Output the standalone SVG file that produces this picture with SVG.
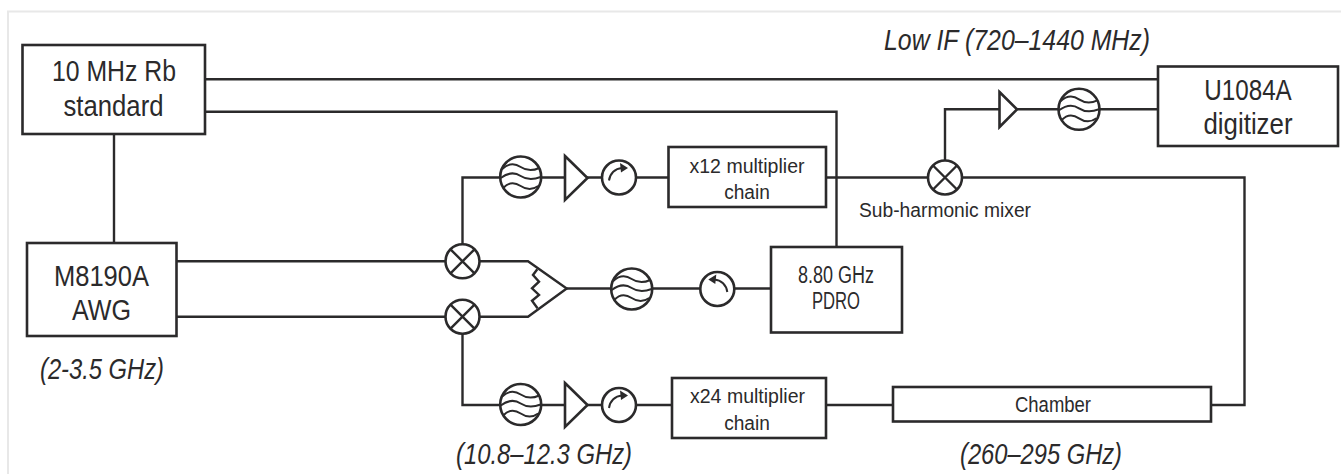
<svg xmlns="http://www.w3.org/2000/svg" width="1341" height="474" viewBox="0 0 1341 474">
<style>
text{font-family:"Liberation Sans",Arial,sans-serif;fill:#2b2a2b;text-anchor:middle}
.l{font-size:29px}.m{font-size:23px}.n{font-size:20px}.s{font-size:20px}.h{font-size:22px}.i{font-size:29px;font-style:italic}
.b{fill:#fff;stroke:#2b2a2b;stroke-width:2.6}
.c{fill:none;stroke:#2b2a2b;stroke-width:2.4;stroke-linejoin:miter}
.t{fill:none;stroke:#2b2a2b;stroke-width:2}
</style>
<defs>
<g id="mix"><circle r="17" class="b"/><path class="c" d="M-12-12L12 12M12-12L-12 12"/></g>
<g id="flt"><circle r="20.5" class="b"/><path class="t" d="M-18.500-8C-12-14-6-14 0-10S12-6 18.500-9M-20 1C-12-5-6-5 0-1S12 3 20 0M-17.500 11C-12 5-6 5 0 9S12 13 17.500 9"/></g>
<g id="amp"><path class="b" d="M0-22L22.500 0L0 22Z"/></g>
<g id="cir"><circle r="17" class="b"/><path class="t" d="M-10 3C-9-4-4-9 3-9.500"/><path d="M9-9.500L1-14.500L2-5Z" fill="#2b2a2b"/></g>
</defs>
<path d="M8 474V11.500H1341" fill="none" stroke="#e8e8e8" stroke-width="2"/>
<g id="connectors">
<path class="c" d="M205 79.300H1158"/>
<path class="c" d="M205 111.700H836.500V247"/>
<path class="c" d="M114 134V243"/>
<path class="c" d="M177 261.300H528L566.700 288.500L528 316.700H177"/>
<path class="c" d="M537.300 269.300L533 275L539 281.700L532 288.300L539 295L532 300.700L537.500 308.300"/>
<path class="c" d="M566.700 288.500H771"/>
<path class="c" d="M462.500 244V177.500H668"/>
<path class="c" d="M462.500 334V405H672"/>
<path class="c" d="M826 177.500H1244.500V405H1211"/>
<path class="c" d="M826 405H893"/>
<path class="c" d="M945 160V109.300H1158"/>
</g>
<g id="rb"><rect class="b" x="22.500" y="45" width="182.500" height="89"/><text class="l" x="114" y="81" textLength="124" lengthAdjust="spacingAndGlyphs">10 MHz Rb</text><text class="l" x="113.500" y="116" textLength="100" lengthAdjust="spacingAndGlyphs">standard</text></g>
<g id="awg"><rect class="b" x="27" y="243" width="149.500" height="93"/><text class="l" x="101.500" y="285.500" textLength="95" lengthAdjust="spacingAndGlyphs">M8190A</text><text class="l" x="101.500" y="320" textLength="59" lengthAdjust="spacingAndGlyphs">AWG</text></g>
<g id="digitizer"><rect class="b" x="1158" y="66.500" width="180" height="79.500"/><text class="l" x="1248" y="99.500" textLength="87.500" lengthAdjust="spacingAndGlyphs">U1084A</text><text class="l" x="1248" y="134" textLength="89" lengthAdjust="spacingAndGlyphs">digitizer</text></g>
<g id="x12"><rect class="b" x="668.500" y="147" width="157.500" height="60"/><text class="n" x="747" y="172.700" textLength="115" lengthAdjust="spacingAndGlyphs">x12 multiplier</text><text class="n" x="747" y="199" textLength="45.700" lengthAdjust="spacingAndGlyphs">chain</text></g>
<g id="x24"><rect class="b" x="672" y="378" width="154" height="60"/><text class="n" x="747.500" y="402.700" textLength="115" lengthAdjust="spacingAndGlyphs">x24 multiplier</text><text class="n" x="747" y="430" textLength="45.700" lengthAdjust="spacingAndGlyphs">chain</text></g>
<g id="pdro"><rect class="b" x="771" y="247" width="131" height="85.500"/><text class="m" x="836" y="283.300" textLength="76" lengthAdjust="spacingAndGlyphs">8.80 GHz</text><text class="m" x="836" y="309" textLength="48" lengthAdjust="spacingAndGlyphs">PDRO</text></g>
<g id="chamber"><rect class="b" x="893" y="387" width="318" height="34.500"/><text class="h" x="1053" y="412.300" textLength="76" lengthAdjust="spacingAndGlyphs">Chamber</text></g>
<g id="mixer1"><use href="#mix" x="462.500" y="261.300"/></g>
<g id="mixer2"><use href="#mix" x="462.500" y="316.700"/></g>
<g id="mixer3"><use href="#mix" x="945" y="177.500"/></g>
<g id="filter1"><use href="#flt" x="520.700" y="177"/></g>
<g id="filter2"><use href="#flt" x="631.700" y="289"/></g>
<g id="filter3"><use href="#flt" x="520.700" y="404.500"/></g>
<g id="filter4"><use href="#flt" x="1079" y="109.300"/></g>
<g id="amp1"><use href="#amp" x="565" y="178"/></g>
<g id="amp2"><use href="#amp" x="565" y="405"/></g>
<g id="amp3"><path class="b" d="M999.500 92L1017 109.300L999.500 127Z"/></g>
<g id="cir1"><use href="#cir" x="619" y="177.500"/></g>
<g id="cir3"><use href="#cir" x="619" y="405"/></g>
<g id="cir2"><use href="#cir" transform="translate(717.300 289) scale(-1 1)"/></g>
<g id="labels">
<text class="s" x="945" y="217" textLength="172" lengthAdjust="spacingAndGlyphs">Sub-harmonic mixer</text>
<text class="i" x="1017" y="50" textLength="266" lengthAdjust="spacingAndGlyphs">Low IF (720–1440 MHz)</text>
<text class="i" x="102" y="379" textLength="124" lengthAdjust="spacingAndGlyphs">(2-3.5 GHz)</text>
<text class="i" x="544" y="464" textLength="176" lengthAdjust="spacingAndGlyphs">(10.8–12.3 GHz)</text>
<text class="i" x="1041" y="464" textLength="162" lengthAdjust="spacingAndGlyphs">(260–295 GHz)</text>
</g>
</svg>
